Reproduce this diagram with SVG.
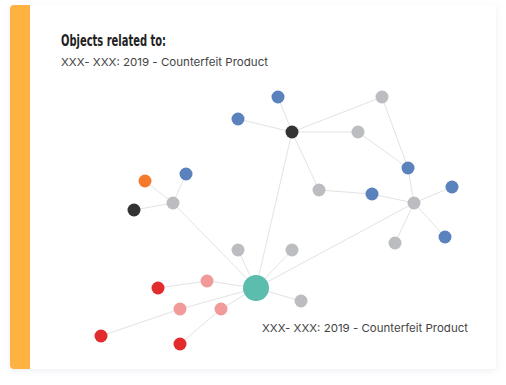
<svg xmlns="http://www.w3.org/2000/svg" width="506" height="385" viewBox="0 0 506 385">
<defs>
<filter id="sh" x="-10%" y="-10%" width="120%" height="120%">
<feDropShadow dx="0" dy="2" stdDeviation="3" flood-color="#9aa6bb" flood-opacity="0.18"/>
</filter>
<clipPath id="cardclip"><rect x="10" y="5" width="486" height="364" rx="4"/></clipPath>
<style>
.e{stroke:#e3e3e3;stroke-width:1;fill:none}
.blue{fill:#5a82bd}
.gray{fill:#bcbdc0}
.black{fill:#333333}
.orange{fill:#f57a2b}
.red{fill:#e22b2c}
.pink{fill:#f19a9a}
.teal{fill:#5cbcae}
.sub{font-family:Inter,"Liberation Sans",sans-serif;font-size:11px;fill:#444}
.title{font-family:"DejaVu Sans Condensed","Liberation Sans",sans-serif;font-weight:bold;font-size:15px;fill:#222}
</style>
</defs>
<rect width="506" height="385" fill="#ffffff"/>
<g id="card">
<rect x="10" y="5" width="486" height="364" rx="4" fill="#fff" filter="url(#sh)"/>
<rect x="10" y="5" width="20" height="364" fill="#fdb241" clip-path="url(#cardclip)"/>
<text class="title" x="61" y="46" textLength="105" lengthAdjust="spacingAndGlyphs">Objects related to:</text>
<text class="sub" x="61" y="66" textLength="207" lengthAdjust="spacingAndGlyphs">XXX- XXX: 2019 - Counterfeit Product</text>
</g>
<g id="connectors">
<line class="e" x1="292" y1="132" x2="238" y2="119"/>
<line class="e" x1="292" y1="132" x2="278" y2="97"/>
<line class="e" x1="292" y1="132" x2="382" y2="97"/>
<line class="e" x1="292" y1="132" x2="358" y2="132"/>
<line class="e" x1="292" y1="132" x2="319" y2="190"/>
<line class="e" x1="292" y1="132" x2="256" y2="288"/>
<line class="e" x1="382" y1="97" x2="408" y2="168"/>
<line class="e" x1="358" y1="132" x2="408" y2="168"/>
<line class="e" x1="408" y1="168" x2="414" y2="203"/>
<line class="e" x1="319" y1="190" x2="372" y2="194"/>
<line class="e" x1="372" y1="194" x2="414" y2="203"/>
<line class="e" x1="414" y1="203" x2="452" y2="187"/>
<line class="e" x1="414" y1="203" x2="445" y2="237"/>
<line class="e" x1="414" y1="203" x2="395" y2="243"/>
<line class="e" x1="414" y1="203" x2="256" y2="288"/>
<line class="e" x1="256" y1="288" x2="238" y2="250"/>
<line class="e" x1="256" y1="288" x2="292" y2="250"/>
<line class="e" x1="256" y1="288" x2="301" y2="301"/>
<line class="e" x1="256" y1="288" x2="173" y2="203"/>
<line class="e" x1="256" y1="288" x2="207" y2="281"/>
<line class="e" x1="207" y1="281" x2="158" y2="288"/>
<line class="e" x1="256" y1="288" x2="180" y2="309"/>
<line class="e" x1="180" y1="309" x2="101" y2="336"/>
<line class="e" x1="256" y1="288" x2="221" y2="309"/>
<line class="e" x1="221" y1="309" x2="180" y2="344"/>
<line class="e" x1="173" y1="203" x2="145" y2="181"/>
<line class="e" x1="173" y1="203" x2="186" y2="174"/>
<line class="e" x1="173" y1="203" x2="134" y2="210"/>
</g>
<g id="n-black1"><circle class="black" cx="292" cy="132" r="6.5"/></g>
<g id="n-blue1"><circle class="blue" cx="238" cy="119" r="6.5"/></g>
<g id="n-blue2"><circle class="blue" cx="278" cy="97" r="6.5"/></g>
<g id="n-gray1"><circle class="gray" cx="382" cy="97" r="6.5"/></g>
<g id="n-gray2"><circle class="gray" cx="358" cy="132" r="6.5"/></g>
<g id="n-blue3"><circle class="blue" cx="408" cy="168" r="6.5"/></g>
<g id="n-gray3"><circle class="gray" cx="319" cy="190" r="6.5"/></g>
<g id="n-blue4"><circle class="blue" cx="372" cy="194" r="6.5"/></g>
<g id="n-gray-hub"><circle class="gray" cx="414" cy="203" r="6.5"/></g>
<g id="n-blue5"><circle class="blue" cx="452" cy="187" r="6.5"/></g>
<g id="n-blue6"><circle class="blue" cx="445" cy="237" r="6.5"/></g>
<g id="n-gray4"><circle class="gray" cx="395" cy="243" r="6.5"/></g>
<g id="n-gray5"><circle class="gray" cx="238" cy="250" r="6.5"/></g>
<g id="n-gray6"><circle class="gray" cx="292" cy="250" r="6.5"/></g>
<g id="n-gray7"><circle class="gray" cx="301" cy="301" r="6.5"/></g>
<g id="n-gray8"><circle class="gray" cx="173" cy="203" r="6.5"/></g>
<g id="n-orange"><circle class="orange" cx="145" cy="181" r="6.5"/></g>
<g id="n-blue7"><circle class="blue" cx="186" cy="174" r="6.5"/></g>
<g id="n-black2"><circle class="black" cx="134" cy="210" r="6.5"/></g>
<g id="n-pink1"><circle class="pink" cx="207" cy="281" r="6.5"/></g>
<g id="n-red1"><circle class="red" cx="158" cy="288" r="6.5"/></g>
<g id="n-pink2"><circle class="pink" cx="180" cy="309" r="6.5"/></g>
<g id="n-red2"><circle class="red" cx="101" cy="336" r="6.5"/></g>
<g id="n-pink3"><circle class="pink" cx="221" cy="309" r="6.5"/></g>
<g id="n-red3"><circle class="red" cx="180" cy="344" r="6.5"/></g>
<g id="n-center"><circle class="teal" cx="256" cy="288" r="13"/>
<text class="sub" x="262" y="332" textLength="206" lengthAdjust="spacingAndGlyphs">XXX- XXX: 2019 - Counterfeit Product</text></g>
</svg>
